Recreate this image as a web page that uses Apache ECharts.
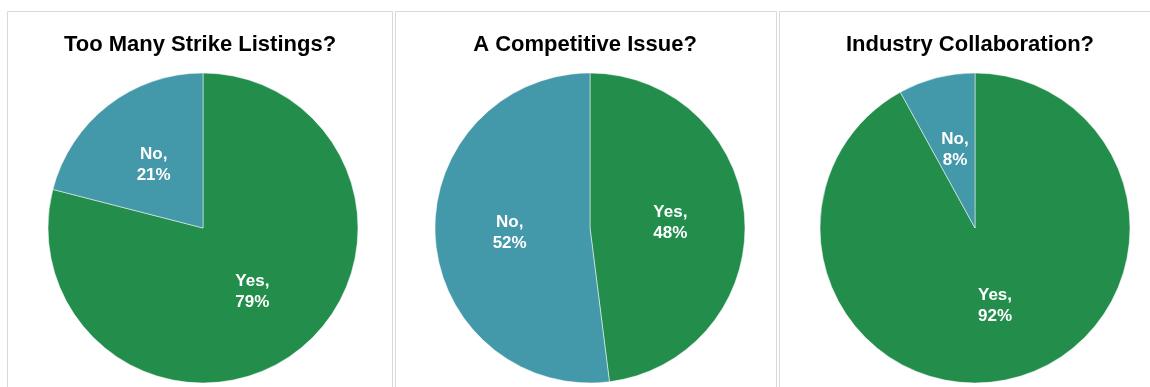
<!DOCTYPE html>
<html>
<head>
<meta charset="utf-8">
<script src="https://cdn.jsdelivr.net/npm/echarts@6/dist/echarts.min.js"></script>
<style>
  html, body { margin: 0; padding: 0; background: #fff; }
  #main { width: 1150px; height: 387px; }
</style>
</head>
<body>
<div id="main"></div>
<script>
// 数据
const panelTitles = ['Too Many Strike Listings?', 'A Competitive Issue?', 'Industry Collaboration?'];
const answerNames = ['Yes', 'No'];
const yesValues = [79, 48, 92];
const noValues = [21, 52, 8];

// 布局
const panelBoxes = [[7, 11, 385, 400], [395, 11, 381, 400], [779, 11, 400, 400]];
const titleCenters = [200, 585, 970];
const pieCenters = [203, 590, 975];
const colors = ['#238E4C', '#4398A9'];

const chart = echarts.init(document.getElementById('main'));

chart.setOption({
  animation: false,
  graphic: panelBoxes.map(([x, y, w, h]) => ({
    type: 'rect',
    shape: { x: x + 0.5, y: y + 0.5, width: w, height: h },
    style: { fill: 'none', stroke: '#d9d9d9', lineWidth: 1 },
    silent: true
  })),
  title: panelTitles.map((text, i) => ({
    text,
    left: titleCenters[i],
    top: 34,
    textAlign: 'center',
    padding: 0,
    textStyle: {
      fontFamily: 'Liberation Sans, Arial, sans-serif',
      fontSize: 22,
      fontWeight: 'bold',
      color: '#000',
      lineHeight: 22
    }
  })),
  series: panelTitles.map((t, i) => ({
    type: 'pie',
    center: [pieCenters[i], 228],
    radius: 155,
    startAngle: 90,
    clockwise: true,
    avoidLabelOverlap: false,
    color: colors,
    itemStyle: { borderColor: '#fff', borderWidth: 0.5 },
    label: {
      show: true,
      position: 'inside',
      formatter: '{b},\n{d}%',
      color: '#fff',
      fontFamily: 'Liberation Sans, Arial, sans-serif',
      fontSize: 17,
      fontWeight: 'bold',
      lineHeight: 21
    },
    labelLine: { show: false },
    emphasis: { disabled: true },
    data: [
      { name: answerNames[0], value: yesValues[i] },
      { name: answerNames[1], value: noValues[i] }
    ]
  }))
});
</script>
</body>
</html>
